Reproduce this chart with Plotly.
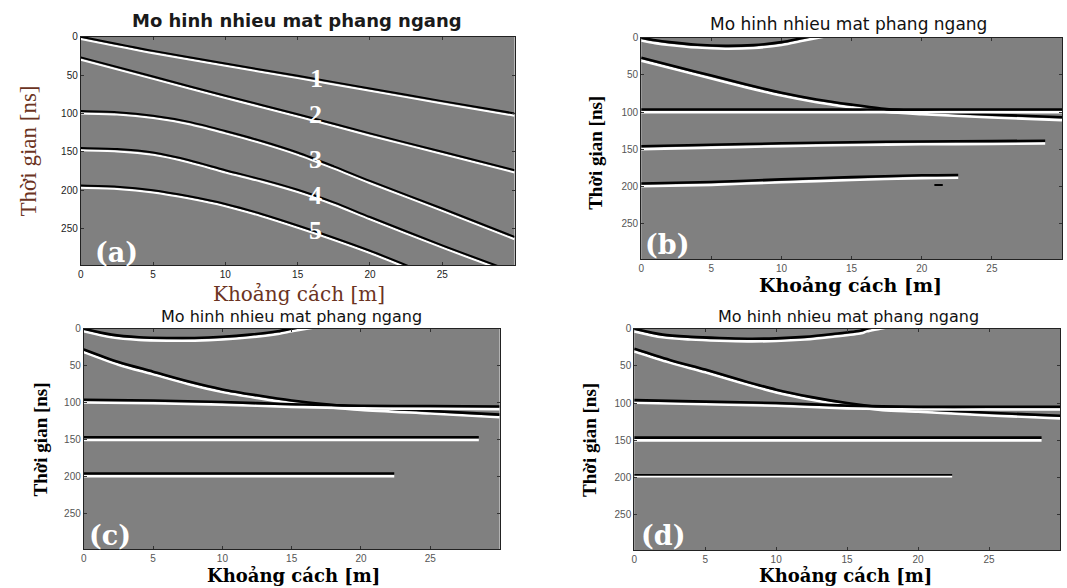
import plotly.graph_objects as go

# ---------------- data (x in m, t in ns) ----------------
# panel (a)
xa1 = [0, 5, 10, 15, 20, 25, 30]
ta1 = [0, 18.5, 35, 51, 67.5, 84, 100]
xa2 = [0, 5, 10, 15, 20, 25, 30]
ta2 = [27, 52, 77, 101, 126, 150, 174]
xa3 = [0, 2.5, 5, 7.5, 10, 12.5, 15, 17.5, 20, 25, 30]
ta3 = [97, 98.5, 103, 111, 123, 136, 151, 169, 188, 224, 261]
xa4 = [0, 2.5, 5, 7.5, 10, 12.5, 15, 17.5, 20, 25, 29.0]
ta4 = [145, 146.5, 151, 161, 174, 186, 199.5, 216, 235, 272, 300]
xa5 = [0, 2.5, 5, 7.5, 10, 12.5, 15, 17.5, 20, 22.8]
ta5 = [194, 195.5, 200, 208, 218, 231, 246, 262, 279, 300]
num_labels = ["1", "2", "3", "4", "5"]
num_x = [16.3, 16.2, 16.2, 16.2, 16.2]
num_t = [55, 101, 160, 207, 253]

# panel (b)
xb1 = [0, 1, 2, 4, 6, 8, 10, 11.6, 13]
tb1 = [0, 3.5, 6, 9.5, 11, 10, 6, 0, -5]
xb2 = [0, 2.5, 5, 7.5, 10, 12.5, 15, 17.5, 20, 25, 30]
tb2 = [27, 39, 51, 63, 74, 83, 90, 96, 99, 103.5, 107]
xb3 = [0, 30]
tb3 = [96.5, 96.5]
xb4 = [0, 5, 10, 15, 20, 25, 28.8]
tb4 = [146, 144, 142, 140.5, 139.5, 139, 138.5]
xb5 = [0, 5, 10, 15, 20, 22.6]
tb5 = [196, 194, 190.5, 187.5, 185, 184.5]
xb6 = [20.9, 21.5]
tb6 = [198, 198]

# panel (c)
xc1 = [0, 2, 4, 6, 8, 10, 12, 14, 15, 16.5]
tc1 = [0, 8, 11.5, 12.5, 12.5, 11, 8, 3.5, 0, -5]
xc2 = [0, 2.5, 5, 7.5, 10, 12.5, 15, 17.5, 20, 25, 30]
tc2 = [28, 45, 58, 71, 82, 90, 97, 102, 106, 111, 116]
xc3 = [0, 5, 10, 15, 20, 25, 30]
tc3 = [96, 97, 99, 102, 104, 104.5, 105]
xc4 = [0, 28.5]
tc4 = [146.5, 146.5]
xc5 = [0, 22.4]
tc5 = [195.5, 195.5]

# panel (d)
xd1 = [0, 2, 4, 6, 8, 10, 12, 14, 16, 16.4, 18]
td1 = [0, 8, 11, 12.6, 13.5, 13, 11, 7.2, 2.5, 0, -6]
xd2 = [0, 2.5, 5, 7.5, 10, 12.5, 15, 17.5, 20, 25, 30]
td2 = [27, 42, 55, 69, 82, 92, 100, 106, 108, 113, 117]
xd3 = [0, 5, 10, 15, 20, 25, 30]
td3 = [96, 98, 100, 103.5, 105, 105, 105]
xd4 = [0, 28.7]
td4 = [146.5, 146.5]
xd5 = [0, 22.4]
td5 = [196.5, 196.5]

x_ticks = [0, 5, 10, 15, 20, 25]
t_ticks = [0, 50, 100, 150, 200, 250]
title_text = "Mo hinh nhieu mat phang ngang"
ylabel_text = "Thời gian [ns]"
xlabel_text = "Khoảng cách [m]"
panel_names = ["(a)", "(b)", "(c)", "(d)"]

# ---------------- layout helpers ----------------
W, H = 1067, 588
frames = [  # pixel boxes: left, right, top, bottom
    (78, 513, 31, 262),
    (640, 1062, 32, 256),
    (81, 498, 326, 549),
    (633, 1060, 326, 550),
]
GRAY = "#808080"

fig = go.Figure()

def add_curve(ax, xs, ts, off, w_black=2.0, w_white=2.0, white=True):
    xref = "x" if ax == 1 else f"x{ax}"
    yref = "y" if ax == 1 else f"y{ax}"
    if white:
        fig.add_trace(go.Scatter(x=xs, y=[t + off for t in ts], mode="lines",
                                 line=dict(color="white", width=w_white, shape="spline", smoothing=0.8),
                                 xaxis=xref, yaxis=yref, showlegend=False, hoverinfo="skip"))
    fig.add_trace(go.Scatter(x=xs, y=ts, mode="lines",
                             line=dict(color="black", width=w_black, shape="spline", smoothing=0.8),
                             xaxis=xref, yaxis=yref, showlegend=False, hoverinfo="skip"))

# (a)
for xs, ts in [(xa1, ta1), (xa2, ta2), (xa3, ta3), (xa4, ta4), (xa5, ta5)]:
    add_curve(1, xs, ts, 3.0, 2.0, 2.0)
# (b)
for xs, ts in [(xb1, tb1), (xb2, tb2), (xb3, tb3), (xb4, tb4), (xb5, tb5)]:
    add_curve(2, xs, ts, 3.8, 2.6, 2.6)
add_curve(2, xb6, tb6, 0, 2.0, 0, white=False)
# (c)
for xs, ts in [(xc1, tc1), (xc2, tc2), (xc3, tc3), (xc4, tc4), (xc5, tc5)]:
    add_curve(3, xs, ts, 3.6, 2.6, 2.6)
# (d)
for xs, ts in [(xd1, td1), (xd2, td2), (xd3, td3), (xd4, td4)]:
    add_curve(4, xs, ts, 3.6, 2.6, 2.6)
add_curve(4, xd5, td5, 2.5, 1.5, 1.5)

tick_fonts = [
    dict(family="Liberation Sans", size=10, color="#222222"),
    dict(family="Liberation Sans", size=10, color="#555555"),
    dict(family="Liberation Sans", size=10, color="#555555"),
    dict(family="Liberation Sans", size=10, color="#555555"),
]

layout_axes = {}
for i, (l, r, t, b) in enumerate(frames, start=1):
    sfx = "" if i == 1 else str(i)
    layout_axes[f"xaxis{sfx}"] = dict(
        domain=[l / W, r / W], anchor=f"y{sfx}", range=[0, 30],
        tickvals=x_ticks, ticks="inside", ticklen=3, tickcolor="#333",
        showline=True, linecolor="#222", linewidth=1, mirror="ticks",
        showgrid=False, zeroline=False, tickfont=tick_fonts[i - 1], fixedrange=True)
    layout_axes[f"yaxis{sfx}"] = dict(
        domain=[1 - b / H, 1 - t / H], anchor=f"x{sfx}", range=[298, 0],
        tickvals=t_ticks, ticks="inside", ticklen=3, tickcolor="#333",
        showline=True, linecolor="#222", linewidth=1, mirror="ticks",
        showgrid=False, zeroline=False, tickfont=tick_fonts[i - 1], fixedrange=True)

annotations = []
def pann(text, px, py, font, angle=0, yanchor="middle"):
    annotations.append(dict(text=text, x=px / W, y=1 - py / H, xref="paper", yref="paper",
                            showarrow=False, xanchor="center", yanchor=yanchor,
                            font=font, textangle=angle))

# titles
pann("<b>" + title_text + "</b>", 295, 15, dict(family="DejaVu Sans", size=18, color="#1a1a1a"))
pann(title_text, 848, 18, dict(family="DejaVu Sans", size=17, color="#111111"))
pann(title_text, 289, 314, dict(family="DejaVu Sans", size=16, color="#111111"))
pann(title_text, 848, 314, dict(family="DejaVu Sans", size=16, color="#111111"))

# y labels
BROWN = "#6b3322"
pann(ylabel_text, 26, 146, dict(family="Liberation Serif", size=23, color=BROWN), -90)
pann("<b>" + ylabel_text + "</b>", 594, 148, dict(family="Liberation Serif", size=19, color="black"), -90)
pann("<b>" + ylabel_text + "</b>", 38, 438, dict(family="Liberation Serif", size=19, color="black"), -90)
pann("<b>" + ylabel_text + "</b>", 588, 438, dict(family="Liberation Serif", size=19, color="black"), -90)

# x labels
pann(xlabel_text, 297, 277, dict(family="DejaVu Serif", size=20, color=BROWN), yanchor="top")
pann("<b>" + xlabel_text + "</b>", 850, 282, dict(family="DejaVu Serif", size=19, color="black"))
pann("<b>" + xlabel_text + "</b>", 291, 588, dict(family="DejaVu Serif", size=18, color="black"), yanchor="bottom")
pann("<b>" + xlabel_text + "</b>", 845, 588, dict(family="DejaVu Serif", size=18, color="black"), yanchor="bottom")

# panel labels
for name, (px, py) in zip(panel_names, [(114, 249), (666, 241), (107, 535), (662, 535)]):
    pann("<b>" + name + "</b>", px, py, dict(family="DejaVu Serif", size=27, color="white"))

# numbers in (a)
for lab, xv, tv in zip(num_labels, num_x, num_t):
    annotations.append(dict(text="<b>" + lab + "</b>", x=xv, y=tv, xref="x", yref="y",
                            showarrow=False, xanchor="center", yanchor="middle",
                            font=dict(family="Liberation Serif", size=26, color="white")))

fig.update_layout(
    width=W, height=H, margin=dict(l=0, r=0, t=0, b=0),
    paper_bgcolor="white", plot_bgcolor=GRAY,
    annotations=annotations, showlegend=False, **layout_axes)

fig.write_html("out.html", config={"displayModeBar": False},
               post_script="document.body.style.margin='0px';document.body.style.overflow='hidden';")
